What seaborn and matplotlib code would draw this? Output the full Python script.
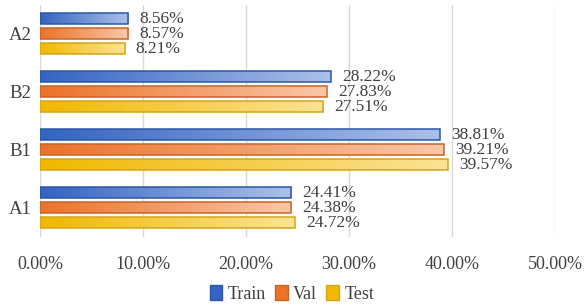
import numpy as np
import pandas as pd
import matplotlib
matplotlib.use("Agg")
import matplotlib.pyplot as plt
import seaborn as sns
from matplotlib.colors import LinearSegmentedColormap
from matplotlib.patches import Patch

# data
categories = ["A2", "B2", "B1", "A1"]
splits = ["Train", "Val", "Test"]
train = [8.56, 28.22, 38.81, 24.41]
val = [8.57, 27.83, 39.21, 24.38]
test = [8.21, 27.51, 39.57, 24.72]

df = pd.DataFrame({
    "cat": categories * 3,
    "split": np.repeat(splits, len(categories)),
    "value": train + val + test,
})

# dark -> light gradient per series, and edge colour
grad = {
    "Train": ("#3463c2", "#abc0ea", "#2c56a8"),
    "Val": ("#ec7228", "#f8c8a8", "#c9632b"),
    "Test": ("#f1b800", "#fbe394", "#d3a51a"),
}

sns.set_style("white")
plt.rcParams["font.family"] = ["Liberation Serif", "DejaVu Serif"]

fig = plt.figure(figsize=(5.84, 3.08), dpi=100)
ax = fig.add_axes([0.0685, 0.232, 0.882, 0.752])

sns.barplot(data=df, y="cat", x="value", hue="split", order=categories,
            hue_order=splits, orient="h", width=0.78, gap=0.27,
            palette=[grad[s][0] for s in splits], legend=False, ax=ax)

# repaint every bar with a horizontal gradient
n = len(categories)
for i, p in enumerate(ax.patches):
    s = splits[i // n]
    dark, light, edge = grad[s]
    cmap = LinearSegmentedColormap.from_list(s, [dark, light])
    x0, y0 = p.get_x(), p.get_y()
    w, h = p.get_width(), p.get_height()
    ax.imshow(np.linspace(0, 1, 256)[None, :], cmap=cmap, aspect="auto",
              extent=(x0, x0 + w, y0 + h, y0), zorder=2, interpolation="bicubic")
    p.set_facecolor("none")
    p.set_edgecolor(edge)
    p.set_linewidth(1.1)
    p.set_zorder(3)
    ax.annotate(f"{w:.2f}%", (x0 + w, y0 + h / 2), xytext=(8, 0),
                textcoords="offset points", va="center", ha="left",
                fontsize=12.5, color="#404040")

ax.set_xlim(0, 50)
ax.set_ylim(3.5, -0.5)
ax.set_xticks(np.arange(0, 51, 10))
ax.set_xticklabels([f"{t:.2f}%" for t in np.arange(0, 51, 10)])
ax.grid(axis="x", color="#d9d9d9", linewidth=1, zorder=0)
ax.set_axisbelow(True)
for sp in ax.spines.values():
    sp.set_visible(False)
ax.tick_params(axis="both", length=0, labelsize=13, labelcolor="#404040")
ax.tick_params(axis="y", labelsize=13.5, pad=6)
ax.tick_params(axis="x", pad=14)
ax.set_xlabel("")
ax.set_ylabel("")

handles = [Patch(facecolor=grad[s][0], edgecolor=grad[s][2], label=s) for s in splits]
fig.legend(handles=handles, loc="center", bbox_to_anchor=(0.5, 0.045), ncol=3,
           frameon=False, handlelength=0.7, handleheight=0.9, handletextpad=0.3,
           columnspacing=0.5, prop={"size": 13})
for t in fig.legends[0].get_texts():
    t.set_color("#404040")

fig.savefig("out.png", dpi=100)
